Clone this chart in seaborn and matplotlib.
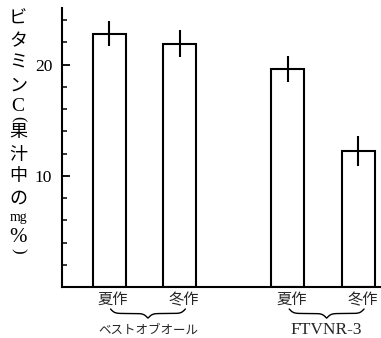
import numpy as np
import pandas as pd
import matplotlib
matplotlib.use("Agg")
import matplotlib.pyplot as plt
import matplotlib.transforms as mtransforms
from matplotlib.ticker import MultipleLocator
import seaborn as sns

# ---- data ----
varieties = ["ベストオブオール", "FTVNR-3"]
seasons = ["夏作", "冬作"]
vitamin_c = [22.8, 21.9, 19.6, 12.2]      # mg% in juice
vitamin_c_err = [1.1, 1.25, 1.2, 1.35]
ytick_values = [10, 20]
ylabel_chars = ["ビ", "タ", "ミ", "ン", "C", "(", "果", "汁", "中", "の", "mg", "%", ")"]

# ---- layout ----
group_gap = 1.53
group_step = (len(seasons) - 1) + group_gap
pos = [g * group_step + s for g in range(len(varieties)) for s in range(len(seasons))]
df = pd.DataFrame({
    "pos": pos,
    "vitc": vitamin_c,
    "variety": [v for v in varieties for _ in seasons],
    "season": seasons * len(varieties),
})

sns.set_style("ticks")
plt.rcParams["font.family"] = ["Liberation Serif", "Noto Sans CJK JP", "DejaVu Sans"]

W, H = 381, 338
fig = plt.figure(figsize=(W / 100, H / 100), dpi=100)
ax = fig.add_axes([62 / W, 51 / H, (W - 62) / W, (287 - 8) / H])

sns.barplot(data=df, x="pos", y="vitc", native_scale=True, width=0.47,
            color="white", saturation=1, edgecolor="black", linewidth=1.5,
            errorbar=None, ax=ax)
ax.errorbar(df["pos"], df["vitc"], yerr=vitamin_c_err, fmt="none",
            ecolor="black", elinewidth=1.5, capsize=0, zorder=5)

ax.set_xlim(-0.667, 3.85)
ax.set_ylim(0, 25.1)
ax.set_xlabel("")
ax.set_ylabel("")

for side in ["top", "right"]:
    ax.spines[side].set_visible(False)
for side in ["left", "bottom"]:
    ax.spines[side].set_linewidth(1.5)
    ax.spines[side].set_color("black")

ax.set_yticks(ytick_values)
ax.set_yticklabels([str(v) for v in ytick_values], fontsize=12.5,
                   family=["Liberation Serif"])
ax.yaxis.set_minor_locator(MultipleLocator(2))
ax.tick_params(axis="y", which="major", direction="in", length=6, width=1.3, pad=7, colors="black")
ax.tick_params(axis="y", which="minor", direction="in", length=3.5, width=1.3)

ax.set_xticks(pos)
ax.set_xticklabels(df["season"], fontsize=11, family=["Noto Sans CJK JP"])
ax.tick_params(axis="x", length=0, pad=3)
offset = mtransforms.ScaledTranslation(4 / 100, 0, fig.dpi_scale_trans)
for lbl in ax.get_xticklabels():
    lbl.set_transform(lbl.get_transform() + offset)

# ---- braces and group labels ----
blend = mtransforms.blended_transform_factory(ax.transData, fig.transFigure)
y_top, y_tip = (H - 309) / H, (H - 318) / H

def brace(x0, x1):
    n = 200
    t = np.linspace(0, 1, n // 2)
    b = 18.0
    half = 1 / (1 + np.exp(-b * t)) + 1 / (1 + np.exp(-b * (t - 1)))
    vals = np.concatenate([half, half[::-1]])
    xs = np.linspace(x0, x1, n)
    ys = y_top - (vals - 0.5) * (y_top - y_tip)
    ax.plot(xs, ys, color="black", lw=1.0, transform=blend, clip_on=False)

for g, name in enumerate(varieties):
    x0 = pos[g * 2] + 0.02
    x1 = pos[g * 2 + 1] + 0.08
    brace(x0, x1)
    fam = ["Noto Sans CJK JP"] if g == 0 else ["Liberation Serif"]
    fs = 9 if g == 0 else 12.5
    ax.text((x0 + x1) / 2, (H - 330) / H, name, transform=blend, ha="center",
            va="center", fontsize=fs, family=fam)

# ---- vertical (tategaki) y-axis label ----
centers_px = [19, 41, 63, 86, 107, 119, 132, 155, 176, 199, 217, 237, 251]
for ch, cy in zip(ylabel_chars, centers_px):
    kw = dict(ha="center", va="center", color="black")
    if ch in "()":
        fig.text(18 / W, (H - cy) / H, ch, rotation=-90, fontsize=12,
                 family=["Liberation Serif"], **kw)
    elif ch in ("C", "mg", "%"):
        fs = 14 if ch == "C" else (10 if ch == "mg" else 15)
        fig.text(18 / W, (H - cy) / H, ch, fontsize=fs, family=["Liberation Serif"], **kw)
    else:
        fig.text(18 / W, (H - cy) / H, ch, fontsize=13, family=["Noto Sans CJK JP"], **kw)

fig.savefig("out.png", dpi=100)
